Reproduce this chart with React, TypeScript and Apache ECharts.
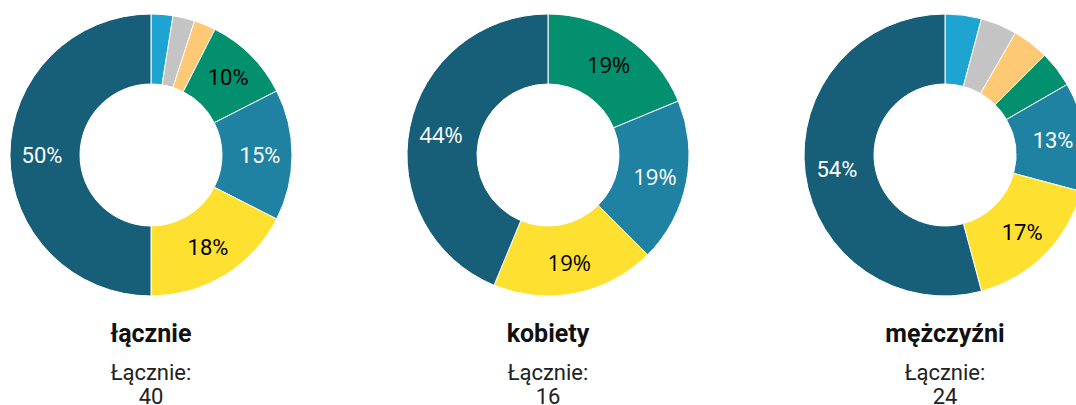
import React, { useEffect, useRef } from "react";
import * as echarts from "echarts";

const categories = ["kat. 1", "kat. 2", "kat. 3", "kat. 4", "kat. 5", "kat. 6", "kat. 7"];
const colors = ["#1da4d0", "#c4c4c4", "#fdc975", "#02906f", "#1f82a3", "#fde030", "#175f79"];
const labelColors = ["#ffffff", "#000000", "#000000", "#000000", "#ffffff", "#000000", "#ffffff"];

const totalValues = [1, 1, 1, 4, 6, 7, 20];
const womenValues = [0, 0, 0, 3, 3, 3, 7];
const menValues = [1, 1, 1, 1, 3, 4, 13];

const groupTitles = ["łącznie", "kobiety", "mężczyźni"];
const sumLabel = "Łącznie:";
const groupSums = [40, 16, 24];

const centersX = [151, 548, 945];
const labelFonts = ["Roboto", "Open Sans", "Roboto"];

export default function App() {
  const ref = useRef<HTMLDivElement>(null);
  useEffect(() => {
    if (!ref.current) return;
    const chart = echarts.init(ref.current, null, { renderer: "svg" });
    const allValues = [totalValues, womenValues, menValues];
    const series = allValues.map((vals, gi) => ({
      type: "pie",
      center: [centersX[gi], 155],
      radius: [71, 141],
      startAngle: 90,
      clockwise: true,
      avoidLabelOverlap: false,
      itemStyle: { borderColor: "#ffffff", borderWidth: 1 },
      label: {
        show: true,
        position: "inside",
        fontFamily: labelFonts[gi],
        fontSize: 22,
        formatter: (p: any) => (p.percent >= 9.5 ? Math.round(p.percent) + "%" : ""),
      },
      labelLine: { show: false },
      emphasis: { disabled: true },
      data: categories.map((c, i) => ({
        name: c,
        value: vals[i],
        itemStyle: { color: colors[i] },
        label: { color: labelColors[i] },
      })),
    }));
    const graphics: any[] = [];
    groupTitles.forEach((t, gi) => {
      graphics.push({
        type: "text",
        x: centersX[gi],
        y: 333,
        style: {
          text: t,
          fontFamily: "Roboto",
          fontWeight: "bold",
          fontSize: 25,
          fill: "#111111",
          textAlign: "center",
          textVerticalAlign: "middle",
        },
      });
      graphics.push({
        type: "text",
        x: centersX[gi],
        y: 372,
        style: {
          text: sumLabel,
          fontFamily: "Roboto",
          fontSize: 22,
          fill: "#222222",
          textAlign: "center",
          textVerticalAlign: "middle",
        },
      });
      graphics.push({
        type: "text",
        x: centersX[gi],
        y: 396,
        style: {
          text: String(groupSums[gi]),
          fontFamily: "Roboto",
          fontSize: 22,
          fill: "#222222",
          textAlign: "center",
          textVerticalAlign: "middle",
        },
      });
    });
    chart.setOption({
      animation: false,
      backgroundColor: "#ffffff",
      series,
      graphic: graphics,
    });
    return () => chart.dispose();
  }, []);
  return (
    <div
      ref={ref}
      style={{ position: "fixed", left: 0, top: 0, width: 1076, height: 405 }}
    />
  );
}
